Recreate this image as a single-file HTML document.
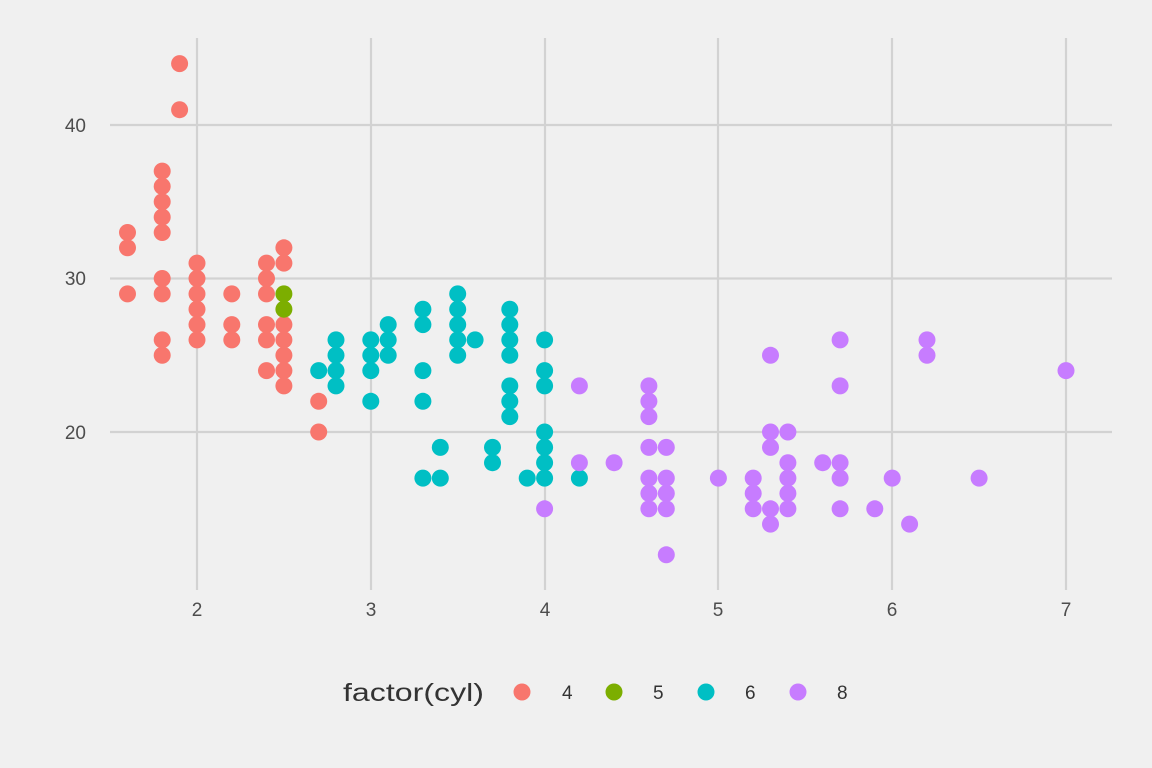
<!DOCTYPE html>
<html><head><meta charset="utf-8"><style>
html,body{margin:0;padding:0;background:#f0f0f0;}
svg{display:block;font-family:"Liberation Sans",sans-serif;}
</style></head><body>
<svg id="s" width="1152" height="768" viewBox="0 0 1152 768" xmlns="http://www.w3.org/2000/svg">
<rect width="1152" height="768" fill="#f0f0f0"/>
<g stroke="#d2d2d2" stroke-width="2.2">
<line x1="110" x2="1112" y1="125" y2="125"/>
<line x1="110" x2="1112" y1="278.5" y2="278.5"/>
<line x1="110" x2="1112" y1="432" y2="432"/>
<line x1="197" x2="197" y1="38" y2="590"/>
<line x1="371" x2="371" y1="38" y2="590"/>
<line x1="545" x2="545" y1="38" y2="590"/>
<line x1="718" x2="718" y1="38" y2="590"/>
<line x1="892" x2="892" y1="38" y2="590"/>
<line x1="1066" x2="1066" y1="38" y2="590"/>
</g>
<g fill="#4d4d4d" font-size="19">
<text x="86" y="132" text-anchor="end">40</text>
<text x="86" y="285" text-anchor="end">30</text>
<text x="86" y="439" text-anchor="end">20</text>
<text x="197" y="616" text-anchor="middle">2</text>
<text x="371" y="616" text-anchor="middle">3</text>
<text x="545" y="616" text-anchor="middle">4</text>
<text x="718" y="616" text-anchor="middle">5</text>
<text x="892" y="616" text-anchor="middle">6</text>
<text x="1066" y="616" text-anchor="middle">7</text>
</g>
<g id="pts"></g>
<g font-size="19" fill="#333">
<text x="343" y="701" font-size="25" textLength="141" lengthAdjust="spacingAndGlyphs">factor(cyl)</text>
<circle cx="522" cy="692" r="8.5" fill="#F8766D"/><text x="562" y="699">4</text>
<circle cx="614" cy="692" r="8.5" fill="#7CAE00"/><text x="653" y="699">5</text>
<circle cx="706" cy="692" r="8.5" fill="#00BFC4"/><text x="745" y="699">6</text>
<circle cx="798" cy="692" r="8.5" fill="#C77CFF"/><text x="837" y="699">8</text>
</g>
</svg>
<script>
var D={
"#F8766D":{1.6:[33,32,29],1.8:[37,36,35,34,33,30,29,26,25],1.9:[44,41],2.0:[31,30,29,28,27,26],2.2:[29,27,26],2.4:[31,30,29,27,26,24],2.5:[32,31,27,26,25,24,23],2.7:[22,20]},
"#7CAE00":{2.5:[29,28]},
"#00BFC4":{2.7:[24],2.8:[26,25,24,23],3.0:[26,25,24,22],3.1:[27,26,25],3.3:[28,27,24,22,17],3.4:[19,17],3.5:[29,28,27,26,25],3.6:[26],3.7:[19,18],3.8:[28,27,26,25,23,22,21],3.9:[17],4.0:[26,24,23,20,19,18,17],4.2:[17]},
"#C77CFF":{4.0:[15],4.2:[23,18],4.4:[18],4.6:[23,22,21,19,17,16,15],4.7:[19,17,16,15,12],5.0:[17],5.2:[17,16,15],5.3:[25,20,19,15,14],5.4:[20,18,17,16,15],5.6:[18],5.7:[26,23,18,17,15],5.9:[15],6.0:[17],6.1:[14],6.2:[26,25],6.5:[17],7.0:[24]}
};
var g=document.getElementById('pts'),h='';
for(var c in D){for(var x in D[c]){D[c][x].forEach(function(y){
var px=197+(parseFloat(x)-2)*173.8,py=432-(y-20)*15.35;
h+='<circle cx="'+px.toFixed(1)+'" cy="'+py.toFixed(1)+'" r="8.5" fill="'+c+'"/>';});}}
g.innerHTML=h;
</script>
</body></html>
